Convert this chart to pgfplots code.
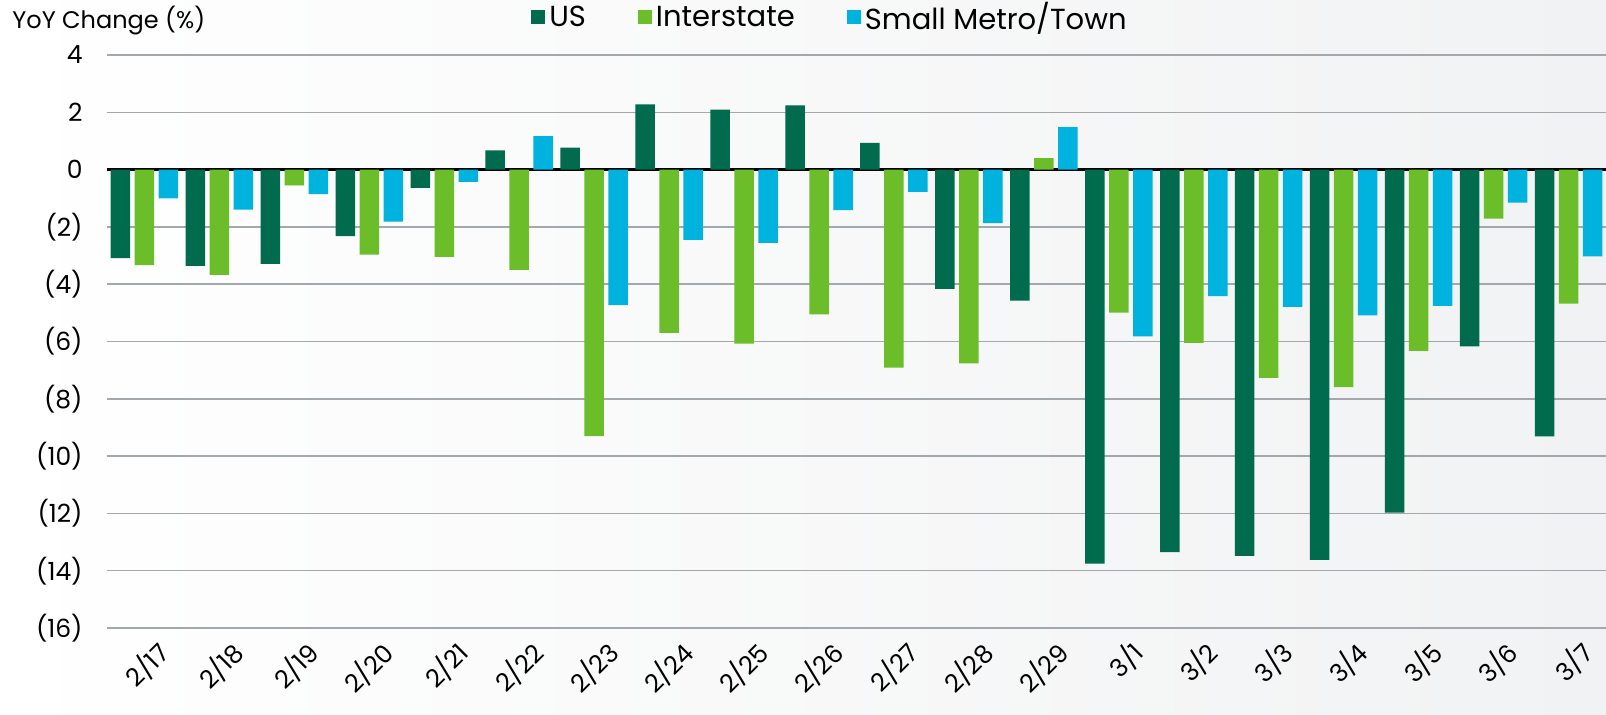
\documentclass[border=0pt]{standalone}
\usepackage{fontspec}
\setmainfont{Poppins}
\usepackage{pgfplots}
\pgfplotsset{compat=1.18}
\usepackage{pgfplotstable}
\definecolor{usc}{HTML}{006B4D}
\definecolor{intc}{HTML}{6BBE2A}
\definecolor{smc}{HTML}{00B2DE}
\definecolor{gridc}{HTML}{A3A8AC}
\definecolor{bgr}{HTML}{F1F2F3}
\pgfplotstableread{
x us int small
0  -3.09 -3.33 -1.00
1  -3.36 -3.67 -1.40
2  -3.29 -0.55 -0.86
3  -2.32 -2.97 -1.82
4  -0.64 -3.05 -0.43
5   0.67 -3.50  1.17
6   0.77 -9.30 -4.73
7   2.28 -5.70 -2.45
8   2.09 -6.07 -2.56
9   2.24 -5.05 -1.41
10  0.93 -6.91 -0.78
11 -4.16 -6.76 -1.87
12 -4.57  0.40  1.48
13 -13.75 -4.99 -5.82
14 -13.35 -6.05 -4.42
15 -13.48 -7.27 -4.79
16 -13.62 -7.59 -5.09
17 -11.97 -6.33 -4.76
18 -6.17 -1.71 -1.15
19 -9.31 -4.68 -3.03
}\datatable
\begin{document}
\begin{tikzpicture}
\shade[left color=white, right color=bgr] (-53.5pt,-43pt) rectangle (749.5pt,314pt);
\path[use as bounding box] (-53.5pt,-43pt) rectangle (749.5pt,314pt);
\node[anchor=west, inner sep=0pt, font=\fontsize{12}{14}\selectfont] at (-47.5pt,303.5pt) {YoY Change (\%)};
\begin{axis}[
  at={(0,0)}, anchor=south west,
  scale only axis, width=749.5pt, height=286.5pt,
  ybar=2.25pt, bar width=9.75pt,
  xmin=-0.5, xmax=19.5, ymin=-16, ymax=4,
  axis line style={draw=none},
  xtick={0,...,19},
  xticklabels={2/17,2/18,2/19,2/20,2/21,2/22,2/23,2/24,2/25,2/26,2/27,2/28,2/29,3/1,3/2,3/3,3/4,3/5,3/6,3/7},
  ytick={-16,-14,...,4},
  yticklabels={(16),(14),(12),(10),(8),(6),(4),(2),0,2,4},
  major tick length=0pt,
  tick style={draw=none},
  ymajorgrids, grid style={gridc, line width=0.75pt},
  extra y ticks={0}, extra y tick labels={},
  extra y tick style={grid style={black, line width=1.3pt}},
  yticklabel style={anchor=east, inner sep=0pt, xshift=-12pt, font=\fontsize{12.5}{14}\selectfont},
  xticklabel style={rotate=45, anchor=east, inner sep=0pt, yshift=-14pt, font=\fontsize{12.5}{14}\selectfont},
  /pgf/number format/assume math mode=true,
  legend columns=3,
  legend style={at={(0.483,1)}, anchor=center, yshift=18.8pt, draw=none, fill=none,
    font=\fontsize{14.5}{16}\selectfont,
    /tikz/every even column/.append style={column sep=24pt}},
  legend image code/.code={\fill[#1] (0pt,-3.5pt) rectangle (7pt,3.5pt);},
]
\addplot[fill=usc, draw=none] table[x=x, y=us] {\datatable};
\addplot[fill=intc, draw=none] table[x=x, y=int] {\datatable};
\addplot[fill=smc, draw=none] table[x=x, y=small] {\datatable};
\legend{US, Interstate, Small Metro/Town}
\end{axis}
\end{tikzpicture}
\end{document}
